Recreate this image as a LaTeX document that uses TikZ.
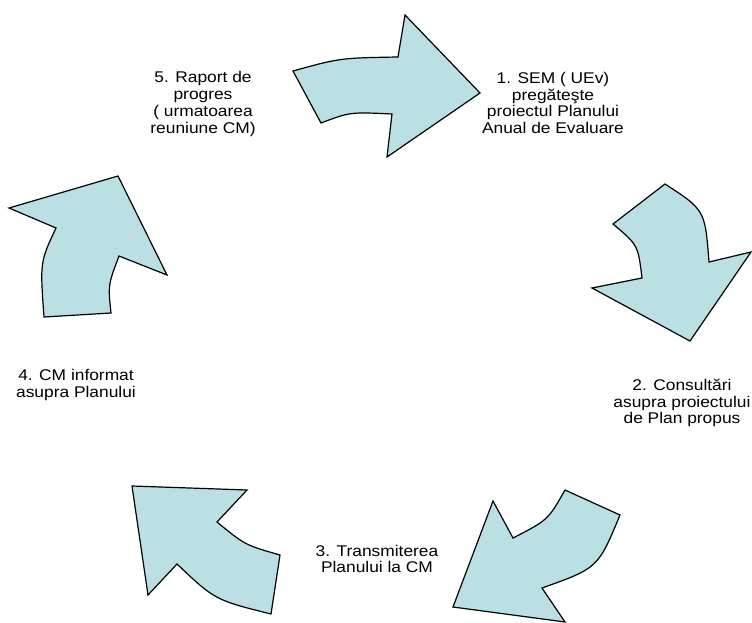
\documentclass[tikz,border=0pt]{standalone}
\usepackage{fontspec}
\setmainfont{Liberation Sans}
\newfontfamily\stepfont[FakeStretch=1.12]{Liberation Sans}
\usetikzlibrary{positioning}
\definecolor{arrowfill}{RGB}{187,224,227}
\tikzstyle{cyclearrow}=[fill=arrowfill, draw=black, line width=1.2pt, line join=miter]
\tikzstyle{annot} = [align=center, inner sep=0pt, font=\stepfont\fontsize{15.5}{16.8}\selectfont]

\begin{document}
\begin{tikzpicture}[x=1pt, y=-1pt]
	\useasboundingbox (0,0) rectangle (752,623);

	% arrows of the cycle
	\draw[cyclearrow] (293,71) .. controls (340,58) .. (398,57) -- (405,15) -- (480,93) -- (387,157) -- (392,114) .. controls (350,112) .. (321,123) -- cycle;
	\draw[cyclearrow] (665,184) .. controls (705,210) .. (709,262) -- (751,252) -- (690,341) -- (592,288) -- (642,278) .. controls (638,245) .. (613,224) -- cycle;
	\draw[cyclearrow] (565,490) -- (620,515) .. controls (598,568) .. (542,588) -- (565,622) -- (453,607) -- (493,501) -- (513,538) .. controls (548,520) .. (565,490);
	\draw[cyclearrow] (132,486) -- (247,490) -- (217,522) .. controls (245,545) .. (280,555) -- (271,614) .. controls (215,600) .. (177,564) -- (148,595) -- cycle;
	\draw[cyclearrow] (44,317) .. controls (40,262) .. (56,228) -- (9,208) -- (118,176) -- (167,275) -- (119,256) .. controls (108,285) .. (111,313) -- cycle;

	% steps
	\node[annot] (step1) at (553,103) {1. SEM ( UEv)\\pregăteşte\\proiectul Planului\\Anual de Evaluare};
	\node[annot] (step2) at (682,403) {2. Consultări\\asupra proiectului\\de Plan propus};
	\node[annot] (step3) at (377,559) {3. Transmiterea\\Planului la CM};
	\node[annot] (step4) at (76,385) {4. CM informat\\asupra Planului};
	\node[annot] (step5) at (203,104) {5. Raport de\\progres\\( urmatoarea\\reuniune CM)};
\end{tikzpicture}
\end{document}
